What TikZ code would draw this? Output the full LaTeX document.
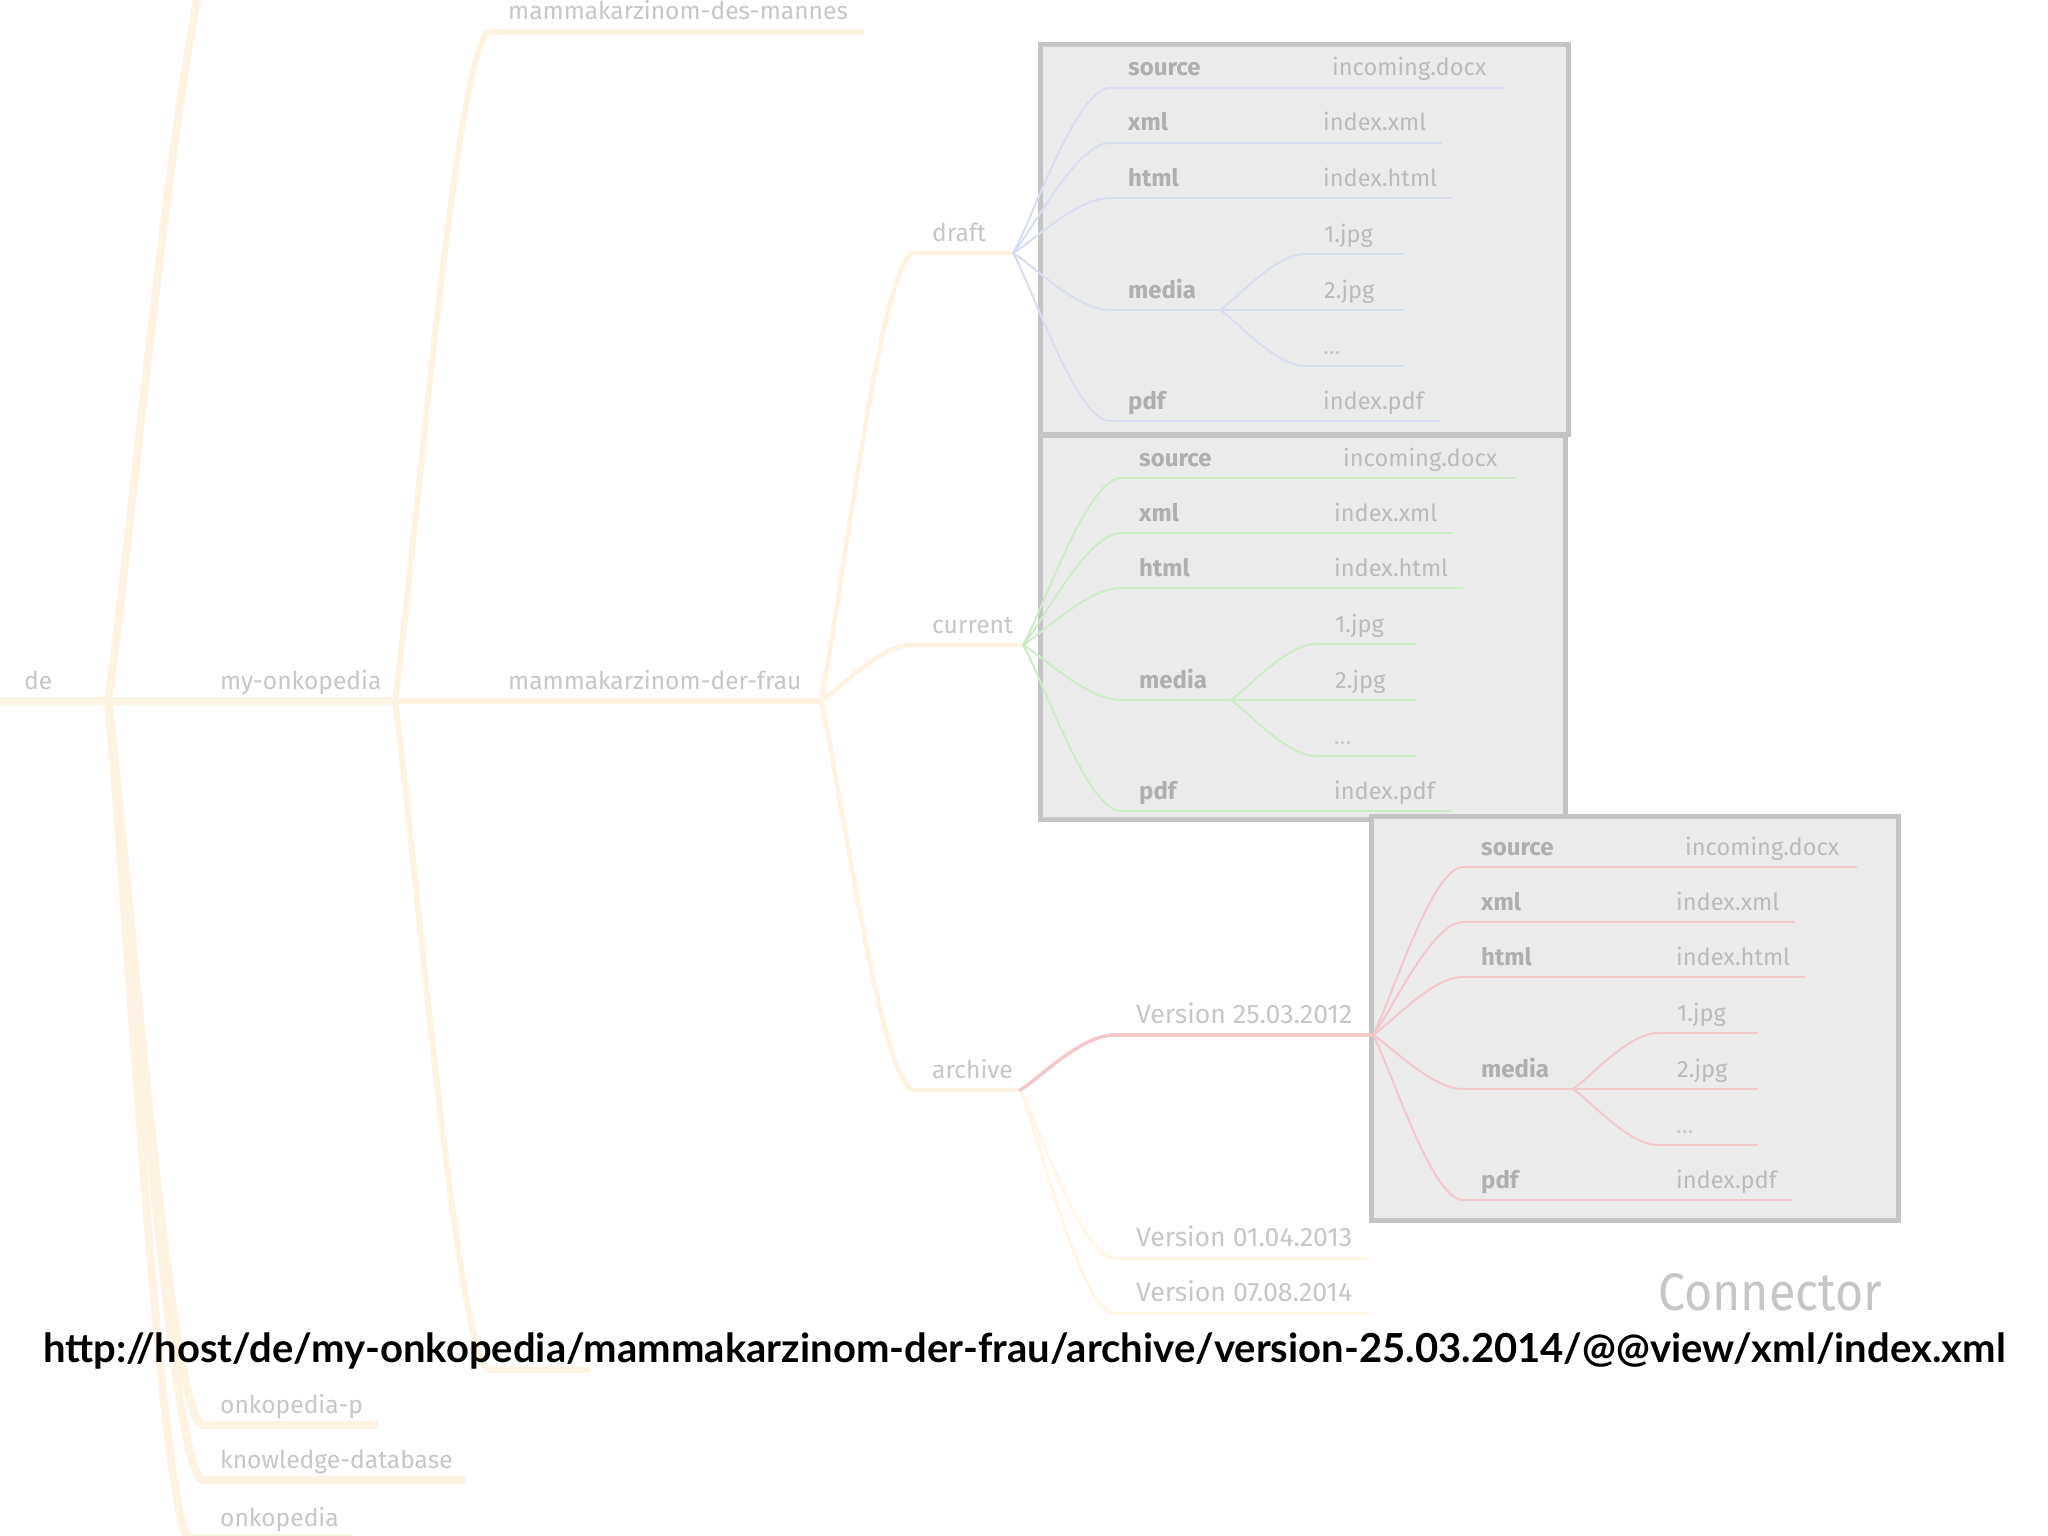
\documentclass[tikz,border=0pt]{standalone}
\usepackage{fontspec}
\setmainfont{Fira Sans}
\newfontfamily\urlfont{Lato}
\usetikzlibrary{calc}
\definecolor{orng}{HTML}{FEF3E2}
\definecolor{orng2}{HTML}{FFF6E6}
\definecolor{grn0}{HTML}{F0F7DE}
\definecolor{tgray}{HTML}{C6C6CB}
\definecolor{bgray}{HTML}{AFAFB2}
\definecolor{fgray}{HTML}{BBBBBE}
\definecolor{dgray}{HTML}{C8C8CB}
\definecolor{boxfill}{HTML}{EBEBEC}
\definecolor{boxedge}{HTML}{C4C4C7}
\definecolor{redl}{HTML}{F2C8CB}
\definecolor{grnl}{HTML}{CDEBC6}
\definecolor{blul}{HTML}{D7DEF0}
\definecolor{cgray}{HTML}{C6C6C8}
% \titem[node style]{name}{start x}{end x}{line y}{label}{label x}{line style}
\newcommand\titem[8][lbl]{%
  \coordinate (#2-s) at (#3,#5);
  \coordinate (#2-e) at (#4,#5);
  \draw[#8] (#2-s) -- (#2-e);
  \node[#1] (#2) at (#7,#5-12) {#6};
}
% \filetree{prefix}{dx}{dy}{line style}{branch coordinate}
\newcommand\filetree[5]{%
  \begin{scope}[shift={(#2,#3)}]
    \titem[blbl]{#1src}{1110}{1300}{88}{source}{1128}{#4}
    \titem[flbl]{#1srcf}{1300}{1504}{88}{incoming.docx}{1332}{#4}
    \titem[blbl]{#1xml}{1110}{1300}{143}{xml}{1128}{#4}
    \titem[flbl]{#1xmlf}{1300}{1442}{143}{index.xml}{1323}{#4}
    \titem[blbl]{#1htm}{1110}{1300}{198}{html}{1128}{#4}
    \titem[flbl]{#1htmf}{1300}{1452}{198}{index.html}{1323}{#4}
    \titem[blbl]{#1med}{1110}{1220}{310}{media}{1128}{#4}
    \titem[flbl]{#1ja}{1305}{1405}{254}{1.jpg}{1324}{#4}
    \titem[flbl]{#1jb}{1305}{1405}{310}{2.jpg}{1324}{#4}
    \titem[dlbl]{#1jc}{1305}{1405}{366}{…}{1323}{#4}
    \titem[blbl]{#1pdf}{1110}{1300}{421}{pdf}{1128}{#4}
    \titem[flbl]{#1pdff}{1300}{1440}{421}{index.pdf}{1323}{#4}
  \end{scope}
  \draw[#4] (#1src-e) -- (#1srcf-s);
  \draw[#4] (#1xml-e) -- (#1xmlf-s);
  \draw[#4] (#1htm-e) -- (#1htmf-s);
  \draw[#4] (#1pdf-e) -- (#1pdff-s);
  \draw[#4] (#5) to[br] (#1src-s);
  \draw[#4] (#5) to[br] (#1xml-s);
  \draw[#4] (#5) to[br] (#1htm-s);
  \draw[#4] (#5) to[br] (#1med-s);
  \draw[#4] (#5) to[br] (#1pdf-s);
  \draw[#4] (#1med-e) to[br] (#1ja-s);
  \draw[#4] (#1med-e) -- (#1jb-s);
  \draw[#4] (#1med-e) to[br] (#1jc-s);
}
\newcommand\vlabel[1]{\resizebox{216pt}{!}{#1}}
\begin{document}
\begin{tikzpicture}[x=1pt,y=-1pt,
  lbl/.style={anchor=base west, inner sep=0pt, font=\fontsize{24.6}{28}\selectfont, text=tgray},
  blbl/.style={anchor=base west, inner sep=0pt, font=\fontsize{24}{28}\selectfont\bfseries, text=bgray},
  flbl/.style={anchor=base west, inner sep=0pt, font=\fontsize{23.6}{28}\selectfont, text=fgray},
  dlbl/.style={anchor=base west, inner sep=0pt, font=\fontsize{23.6}{28}\selectfont, text=dgray},
  br/.style={to path={.. controls ($(\tikztostart)!0.2!(\tikztotarget)$) and ($(\tikztotarget)!0.35!(\tikztostart|-\tikztotarget)$) .. (\tikztotarget)}},
  lone/.style={draw=orng, line width=8pt, line cap=round},
  loneg/.style={draw=grn0, line width=8pt, line cap=round},
  ltwo/.style={draw=orng, line width=6pt, line cap=round},
  lthree/.style={draw=orng, line width=4.5pt, line cap=round},
  lfour/.style={draw=orng2, line width=3pt, line cap=round},
  lred/.style={draw=redl, line width=3.5pt, line cap=round},
  ftblue/.style={draw=blul, line width=2pt},
  ftgreen/.style={draw=grnl, line width=2pt},
  ftred/.style={draw=redl, line width=2pt},
  frame/.style={draw=boxedge, fill=boxfill, line width=5pt, inner sep=0pt, outer sep=0pt, anchor=north west}
]
\useasboundingbox (0,0) rectangle (2048,1536);
\clip (0,0) rectangle (2048,1536);
\fill[white] (0,0) rectangle (2048,1536);

% frames
\node[frame, minimum width=528pt, minimum height=389pt] (box1) at (1040,45) {};
\node[frame, minimum width=525pt, minimum height=384pt] (box2) at (1040,435) {};
\node[frame, minimum width=527pt, minimum height=404pt] (box3) at (1371,816) {};

% tree
\titem{de}{0}{108}{701}{de}{24}{lone}
\coordinate (top-s) at (228,-90);
\titem{my}{200}{395}{701}{my-onkopedia}{220}{lone}
\titem{okp}{203}{375}{1425}{onkopedia-p}{220}{lone}
\titem{kdb}{203}{463}{1480}{knowledge-database}{220}{lone}
\titem{onk}{190}{350}{1538}{onkopedia}{220}{loneg}
\titem{mdm}{490}{862}{32}{mammakarzinom-des-mannes}{508}{ltwo}
\titem{mdf}{490}{821}{701}{mammakarzinom-der-frau}{508}{ltwo}
\coordinate (mth-s) at (490,1370);
\coordinate (mth-e) at (588,1370);
\draw[ltwo] (mth-s) -- (mth-e);
\titem{draft}{914}{1013}{253}{draft}{932}{lthree}
\titem{cur}{911}{1023}{645}{current}{932}{lthree}
\titem{arc}{914}{1020}{1090}{archive}{932}{lthree}
\titem{va}{1114}{1373}{1035}{\vlabel{Version 25.03.2012}}{1136}{lred}
\titem{vb}{1114}{1367}{1258}{\vlabel{Version 01.04.2013}}{1136}{lfour}
\titem{vc}{1114}{1367}{1313}{\vlabel{Version 07.08.2014}}{1136}{lfour}

\draw[lone] (de-e) to[br] (top-s);
\draw[lone] (de-e) -- (my-s);
\draw[lone] (de-e) to[br] (okp-s);
\draw[lone] (de-e) to[br] (kdb-s);
\draw[lone] (de-e) to[br] (onk-s);
\draw[ltwo] (my-e) to[br] (mdm-s);
\draw[ltwo] (my-e) -- (mdf-s);
\draw[ltwo] (my-e) to[br] (mth-s);
\draw[lthree] (mdf-e) to[br] (draft-s);
\draw[lthree] (mdf-e) to[br] (cur-s);
\draw[lthree] (mdf-e) to[br] (arc-s);
\draw[lfour] (arc-e) to[br] (vb-s);
\draw[lfour] (arc-e) to[br] (vc-s);
\draw[lred] (arc-e) to[br] (va-s);

% file trees
\filetree{a}{0}{0}{ftblue}{draft-e}
\filetree{b}{11}{390}{ftgreen}{cur-e}
\filetree{c}{353}{779}{ftred}{va-e}

% captions
\node[anchor=base west, inner sep=0pt, text=cgray] (conn) at (1658,1310)
  {\resizebox{224pt}{37pt}{Connector}};
\node[anchor=base west, inner sep=0pt, text=black] (url) at (43,1362)
  {\resizebox{1962pt}{!}{\urlfont\bfseries\fontsize{40}{48}\selectfont http://host/de/my-onkopedia/mammakarzinom-der-frau/archive/version-25.03.2014/@@view/xml/index.xml}};
\end{tikzpicture}
\end{document}
